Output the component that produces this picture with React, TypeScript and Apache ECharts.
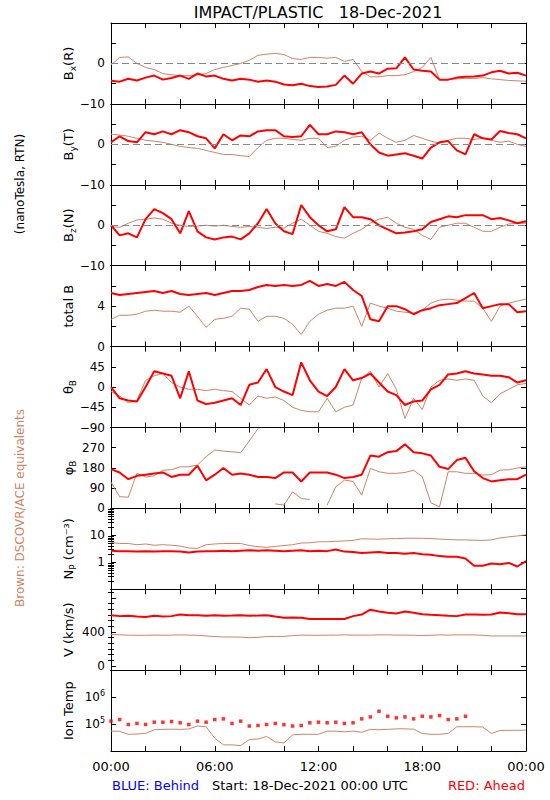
import React, { useEffect, useRef } from 'react';
import * as echarts from 'echarts';

// ---------- data (half-hour samples from 00:00 to 24:00) ----------
const HOUR_STEP = 0.5;
const X_TICK_LABELS = ['00:00', '06:00', '12:00', '18:00', '00:00'];

const BX_RED = [-4.3, -4.5, -3.8, -4.2, -3.5, -3.0, -4.0, -3.6, -3.0, -3.8, -2.5, -3.2, -3.0, -3.8, -4.2, -3.8, -4.0, -4.5, -4.2, -4.5, -5.2, -5.4, -5.0, -5.6, -5.8, -5.7, -5.3, -3.0, -5.0, -2.5, -2.0, -2.5, -1.3, -1.2, 1.5, -1.5, -1.8, -2.0, -4.0, -4.0, -3.5, -3.3, -3.2, -3.0, -2.2, -1.8, -2.5, -2.3, -3.0];
const BX_BROWN = [-0.4, 1.5, 1.6, 0.0, -1.0, -1.5, -2.5, -2.8, -3.0, -3.0, -2.8, -2.5, -1.5, -1.0, -0.5, 0.0, 0.8, 2.0, 2.3, 2.5, 2.2, 1.2, 1.0, 1.5, 1.5, 1.3, 1.5, 0.5, 1.0, -2.0, -3.3, -3.3, -3.0, -3.0, -2.8, -2.0, -1.0, 1.5, -4.0, -4.0, -3.8, -3.7, -3.7, -3.5, -3.8, -4.0, -4.2, -4.3, -4.4];

const BY_RED = [0.5, 2.0, 0.8, 0.5, 3.0, 2.5, 3.2, 2.5, 3.5, 3.0, 2.0, 1.5, -1.0, 2.5, 1.0, 2.2, 2.0, 3.2, 3.5, 3.5, 2.0, 1.8, 2.0, 4.8, 2.5, 2.5, 3.2, 3.0, 2.5, 3.0, 0.0, -2.0, -2.8, -2.5, -2.2, -2.8, -3.5, -0.8, 0.5, 0.8, -1.5, -2.5, 2.5, 1.5, 1.2, 3.3, 2.8, 2.5, 1.5];
const BY_BROWN = [2.5, 2.3, 2.0, 1.5, 1.0, 0.8, 0.5, 0.0, -0.5, -0.8, -1.0, -1.5, -2.0, -2.5, -2.5, -2.8, -3.0, -0.8, 1.0, 1.5, 1.5, 1.2, 1.0, 1.5, 1.5, -0.8, -0.5, 1.0, 1.8, 2.0, 1.0, 2.8, 1.5, 0.5, 1.0, 2.2, 1.5, 0.8, 0.3, 1.0, 1.5, 1.5, 1.2, 1.5, 1.0, 0.5, 0.8, 0.0, -0.5];

const BZ_RED = [0.0, -2.5, -2.0, -3.0, 1.5, 4.0, 3.0, 1.5, -2.0, 3.5, -1.5, -3.0, -3.5, -3.0, -2.8, -3.5, -2.0, 0.5, 4.0, 0.5, -1.5, -2.2, 5.0, 2.0, 0.0, -1.5, -1.0, 4.5, 2.0, 2.0, 1.5, 0.0, -1.0, -2.0, -1.8, -1.5, -1.0, 0.8, 1.5, 2.2, 2.0, 2.5, 2.5, 2.5, 1.5, 1.8, 1.2, 0.5, 1.0];
const BZ_BROWN = [-0.3, -0.5, 0.5, 1.3, 1.5, 1.8, 1.5, 0.5, 0.0, -0.3, -0.2, 0.0, -0.2, 0.0, -0.3, -0.5, -0.3, -0.5, -0.8, -0.5, -0.7, 0.5, 1.5, 0.0, -1.5, -2.0, -2.8, -3.2, -2.0, -1.0, 0.5, 1.5, 2.0, 0.5, -0.5, -1.0, -2.5, -3.5, -0.5, 0.0, 0.5, 0.5, -0.5, -1.5, -1.5, -0.5, 0.3, 0.5, 0.5];

const BT_RED = [5.3, 5.1, 5.2, 5.3, 5.4, 5.5, 5.3, 5.5, 5.2, 5.1, 5.2, 5.3, 5.1, 5.3, 5.5, 5.5, 5.6, 5.9, 6.1, 6.0, 6.1, 6.0, 6.1, 6.5, 6.0, 6.2, 6.0, 6.4, 5.6, 5.0, 2.7, 2.5, 4.0, 4.0, 3.7, 3.2, 3.6, 3.8, 4.1, 4.2, 4.3, 4.8, 5.3, 3.8, 4.0, 4.2, 4.2, 3.4, 3.5];
const BT_BROWN = [2.7, 3.1, 3.1, 3.2, 3.5, 3.6, 3.5, 3.5, 3.4, 4.0, 3.0, 1.9, 2.7, 2.8, 3.0, 3.8, 3.7, 2.5, 3.0, 3.0, 2.8, 2.2, 1.2, 2.5, 3.2, 3.6, 3.8, 3.8, 4.0, 2.0, 4.3, 4.0, 3.8, 3.5, 3.4, 3.3, 3.6, 4.3, 4.6, 4.7, 4.6, 4.5, 4.5, 3.8, 2.5, 4.0, 4.3, 4.5, 4.7];

const THETA_RED = [0, -25, -30, -32, 0, 35, 30, 25, -25, 35, -30, -38, -35, -30, -25, -40, 5, 10, 40, 0, -10, -18, 55, 15, -10, -20, 0, 40, 15, 20, 30, 10, -10, -18, -40, -32, -30, -5, 5, 28, 30, 35, 30, 28, 25, 25, 22, 10, 15];
const THETA_BROWN = [-10, -20, -35, -30, 15, 25, 30, 10, 0, -5, -5, -8, -5, -8, -10, -25, -40, -20, -25, -22, -30, -45, -52, -55, -55, -25, -55, -45, -40, 20, 35, 0, 30, -5, -70, -25, -50, 0, 15, 18, 15, 18, 15, -20, -35, -15, -5, 5, 8];

const PHI_RED = [175, 160, 130, 145, 150, 155, 160, 140, 150, 150, 190, 125, 150, 180, 150, 155, 150, 140, 140, 135, 160, 160, 120, 160, 160, 160, 150, 135, 140, 150, 235, 230, 250, 255, 285, 250, 245, 235, 185, 175, 215, 225, 165, 135, 120, 125, 130, 130, 150];
const PHI_BROWN = [117, 52, 50, 156, 140, 145, 170, 172, 185, 185, 193, 230, 260, 255, 252, 248, 300, 355, null, 20, 15, 74, 44, 40, null, 15, 96, 126, 120, 59, 178, 163, 156, 156, 160, 170, 141, 25, 7, 163, 163, 156, 156, 148, 150, 170, 172, 180, 185];

const NP_RED = [2.7, 2.6, 2.6, 2.5, 2.6, 2.5, 2.6, 2.6, 2.5, 2.3, 2.5, 2.6, 2.6, 2.7, 2.6, 2.7, 2.8, 2.7, 2.8, 2.7, 2.6, 2.7, 2.8, 2.6, 2.7, 2.6, 3.0, 2.5, 2.4, 2.2, 2.3, 2.4, 2.2, 2.2, 2.1, 2.2, 2.0, 1.9, 1.7, 1.6, 1.6, 1.4, 0.75, 0.75, 0.9, 0.85, 0.95, 0.7, 1.1];
const NP_BROWN = [5.5, 5.0, 5.0, 4.5, 4.8, 4.3, 4.5, 4.3, 4.0, 3.4, 3.3, 4.5, 4.8, 5.0, 5.0, 5.0, 4.2, 3.8, 3.6, 3.9, 4.2, 4.5, 5.2, 5.3, 5.8, 5.8, 6.0, 6.2, 6.5, 7.5, 7.3, 7.2, 7.5, 7.6, 7.8, 7.8, 7.8, 7.6, 7.3, 7.0, 6.8, 6.8, 6.6, 6.5, 6.8, 8.0, 8.8, 9.5, 10.5];

const V_RED = [596, 585, 590, 580, 575, 590, 580, 585, 604, 596, 596, 590, 596, 590, 592, 596, 589, 592, 596, 580, 566, 568, 566, 551, 551, 551, 551, 551, 585, 604, 660, 640, 625, 615, 640, 625, 608, 600, 596, 590, 585, 604, 604, 600, 604, 627, 620, 608, 608];
const V_BROWN = [370, 365, 362, 360, 360, 362, 360, 362, 365, 362, 360, 352, 345, 340, 340, 338, 332, 335, 347, 347, 347, 355, 362, 360, 360, 362, 362, 365, 362, 362, 362, 365, 365, 362, 362, 360, 358, 360, 365, 362, 365, 365, 365, 360, 352, 352, 352, 352, 352];

const TEMP_RED = [129000, 148000, 97000, 106000, 97000, 118000, 118000, 125000, 112000, 97000, 129000, 118000, 148000, 157000, 106000, 129000, 85000, 89000, 97000, 106000, 95000, 85000, 89000, 112000, 118000, 112000, 118000, 106000, 112000, 157000, 185000, 300000, 196000, 171000, 185000, 157000, 196000, 185000, 208000, 148000, 157000, 196000, null, null, null, null, null, null, null];
const TEMP_BROWN = [55000, 54000, 42000, 43000, 45000, 62000, 64000, 65000, 64000, 66000, 85000, 80000, 30000, 17000, 17000, 16000, 27000, 28000, 35000, 22000, 20000, 40000, 42000, 42000, 42000, 55000, 55000, 52000, 55000, 50000, 64000, 62000, 64000, 67000, 67000, 65000, 45000, 42000, 42000, 45000, 80000, 80000, 80000, 78000, 45000, 58000, 59000, 59000, 60000];

const NP_MINOR_TICKS = [0.2, 0.3, 0.4, 0.5, 0.6, 0.7, 0.8, 0.9, 2, 3, 4, 5, 6, 7, 8, 9, 20, 30, 40, 50, 60, 70, 80, 90];
const V_MAJOR_TICKS = [0, 400, 800];
const V_MINOR_TICKS = [66.7, 133.3, 200, 266.7, 333.3, 466.7, 533.3, 600, 666.7, 733.3, 866.7];

// ---------- styling ----------
const RED = '#ff0000';
const BROWN = '#cc8466';
const FONT = 'DejaVu Sans';
const GRID_LEFT = 111;
const GRID_W = 415;
const GRID_TOP = 23;
const PANEL_H = 80.9;

const minus = (v: number) => {
  const r = Math.round(v);
  return r < 0 ? '\u2212' + Math.abs(r) : String(r);
};

type Panel = {
  name: string;
  axis: any;
  labels: number[];
  edgeLabels?: number[]; // labels on the panel edge, written as text beside the axis
  log?: boolean;
  zero?: boolean;
  red: (number | null)[];
  brown: (number | null)[];
  redScatter?: boolean;
  tickValues?: number[];
  minorTicks?: number[];
  fmt?: (v: number) => string;
};

const PANELS: Panel[] = [
  { name: '{m|B}{s|x}{m|(R)}', axis: { type: 'value', min: -10, max: 10, interval: 5 }, labels: [0, -10], zero: true, red: BX_RED, brown: BX_BROWN },
  { name: '{m|B}{s|y}{m|(T)}', axis: { type: 'value', min: -10, max: 10, interval: 5 }, labels: [0, -10], zero: true, red: BY_RED, brown: BY_BROWN },
  { name: '{m|B}{s|z}{m|(N)}', axis: { type: 'value', min: -10, max: 10, interval: 5 }, labels: [0, -10], zero: true, red: BZ_RED, brown: BZ_BROWN },
  { name: '{m|total B}', axis: { type: 'value', min: 0, max: 8, interval: 2 }, labels: [0, 4], red: BT_RED, brown: BT_BROWN },
  { name: '{m|\u03b8}{s|B}', axis: { type: 'value', min: -90, max: 90, interval: 45 }, labels: [-45, 0, 45], edgeLabels: [-90], red: THETA_RED, brown: THETA_BROWN },
  { name: '{m|\u03c6}{s|B}', axis: { type: 'value', min: 0, max: 360, interval: 90 }, labels: [0, 90, 180, 270], red: PHI_RED, brown: PHI_BROWN },
  { name: '{m|N}{s|P}{m| (cm\u207b\u00b3)}', axis: { type: 'log', min: 0.1, max: 100, logBase: 10 }, log: true, labels: [1, 10], red: NP_RED, brown: NP_BROWN, minorTicks: NP_MINOR_TICKS },
  { name: '{m|V (km/s)}', axis: { type: 'value', min: -50, max: 900 }, labels: [0, 400], tickValues: V_MAJOR_TICKS, minorTicks: V_MINOR_TICKS, red: V_RED, brown: V_BROWN },
  { name: '{m|Ion Temp}', axis: { type: 'log', min: 1e4, max: 1e7, logBase: 10 }, log: true, labels: [1e5, 1e6], red: TEMP_RED, brown: TEMP_BROWN, redScatter: true,
    fmt: (v: number) => '{b|10}{p|' + Math.round(Math.log10(v)) + '}' },
];

const toPairs = (vals: (number | null)[]) => vals.map((v, i) => [i * HOUR_STEP, v]);

function buildOption() {
  const grids: any[] = [];
  const xAxes: any[] = [];
  const yAxes: any[] = [];
  const series: any[] = [];
  const graphics: any[] = [];
  const last = PANELS.length - 1;

  PANELS.forEach((p, i) => {
    const top = GRID_TOP + i * PANEL_H;
    grids.push({ left: GRID_LEFT, width: GRID_W, top, height: PANEL_H, show: false });

    ['bottom', 'top'].forEach((pos) => {
      const showLab = pos === 'bottom' && i === last;
      xAxes.push({
        type: 'value', gridIndex: i, position: pos, min: 0, max: 24, interval: 2,
        axisLine: { show: true, onZero: false, lineStyle: { color: '#000', width: 1 } },
        axisTick: { show: true, inside: true, length: 5, lineStyle: { color: '#000', width: 1 } },
        splitLine: { show: false },
        axisLabel: showLab
          ? {
              show: true, fontSize: 13, fontFamily: FONT, color: '#000', margin: 9,
              showMinLabel: true, showMaxLabel: true,
              customValues: [0, 6, 12, 18, 24],
              formatter: (v: number) => X_TICK_LABELS[Math.round(v / 6)] ?? '',
            }
          : { show: false },
      });
    });

    const leftIdx = yAxes.length;
    const tickL: any = { show: true, inside: true, length: 5, lineStyle: { color: '#000', width: 1 } };
    if (p.tickValues) tickL.customValues = p.tickValues;
    yAxes.push({
      ...p.axis, gridIndex: i, position: 'left',
      axisLine: { show: true, onZero: false, lineStyle: { color: '#000', width: 1 } },
      axisTick: tickL,
      splitLine: { show: false },
      minorTick: { show: false },
      axisLabel: {
        show: true, fontSize: 12, fontFamily: FONT, color: '#000', margin: 6,
        showMinLabel: true, showMaxLabel: true, hideOverlap: false,
        customValues: p.labels,
        formatter: (v: number) => (p.fmt ? p.fmt(v) : minus(v)),
        rich: {
          b: { fontSize: 12, fontFamily: FONT, color: '#000' },
          p: { fontSize: 8, fontFamily: FONT, color: '#000', padding: [0, 0, 8, 0] },
        },
      },
    });
    const tickR: any = { show: true, inside: true, length: 5, lineStyle: { color: '#000', width: 1 } };
    if (p.tickValues) tickR.customValues = p.tickValues;
    yAxes.push({
      ...p.axis, gridIndex: i, position: 'right',
      axisLine: { show: true, onZero: false, lineStyle: { color: '#000', width: 1 } },
      axisTick: tickR,
      splitLine: { show: false },
      minorTick: { show: false },
      axisLabel: { show: false },
    });
    if (p.minorTicks) {
      ['left', 'right'].forEach((pos) => {
        yAxes.push({
          ...p.axis, gridIndex: i, position: pos,
          axisLine: { show: false },
          axisTick: { show: true, inside: true, length: 3, customValues: p.minorTicks, lineStyle: { color: '#000', width: 1 } },
          splitLine: { show: false },
          axisLabel: { show: false },
        });
      });
    }

    series.push({
      type: 'line', xAxisIndex: 2 * i, yAxisIndex: leftIdx, data: toPairs(p.brown),
      showSymbol: false, symbol: 'none', connectNulls: false, z: 2,
      lineStyle: { color: BROWN, width: 1 }, itemStyle: { color: BROWN },
      markLine: p.zero
        ? { silent: true, symbol: 'none', label: { show: false }, lineStyle: { color: '#888', type: [7, 4], width: 1 }, data: [{ yAxis: 0 }] }
        : undefined,
    });
    if (p.redScatter) {
      series.push({
        type: 'scatter', xAxisIndex: 2 * i, yAxisIndex: leftIdx, data: toPairs(p.red).filter((d) => d[1] !== null),
        symbol: 'rect', symbolSize: 3.5, itemStyle: { color: RED }, z: 3,
      });
    } else {
      series.push({
        type: 'line', xAxisIndex: 2 * i, yAxisIndex: leftIdx, data: toPairs(p.red),
        showSymbol: false, symbol: 'none', connectNulls: false, z: 3,
        lineStyle: { color: RED, width: 2 }, itemStyle: { color: RED },
      });
    }

    (p.edgeLabels || []).forEach((v) => {
      const frac = (p.axis.max - v) / (p.axis.max - p.axis.min);
      graphics.push({
        type: 'text', z: 1000, zlevel: 1, silent: true,
        x: GRID_LEFT - 6, y: top + frac * PANEL_H,
        style: { text: minus(v), fill: '#000', font: '12px "DejaVu Sans"', align: 'right', verticalAlign: 'middle' },
      });
    });

    graphics.push({
      type: 'text', x: 68, y: top + PANEL_H / 2, rotation: Math.PI / 2,
      style: {
        text: p.name, fill: '#000', align: 'center', verticalAlign: 'middle',
        rich: {
          m: { fontSize: 13, fontFamily: FONT, fill: '#000', lineHeight: 14 },
          s: { fontSize: 9, fontFamily: FONT, fill: '#000', lineHeight: 9, padding: [9, 0, 0, 0] },
        },
      },
    });
  });

  graphics.push(
    { type: 'text', x: 318, y: 12, style: { text: 'IMPACT/PLASTIC   18-Dec-2021', fill: '#000', font: '16px "DejaVu Sans"', align: 'center', verticalAlign: 'middle' } },
    { type: 'text', x: 20, y: 184, rotation: Math.PI / 2, style: { text: '(nanoTesla, RTN)', fill: '#000', font: '12px "DejaVu Sans"', align: 'center', verticalAlign: 'middle' } },
    { type: 'text', x: 20, y: 508, rotation: Math.PI / 2, style: { text: 'Brown: DSCOVR/ACE equivalents', fill: BROWN, font: '12px "DejaVu Sans"', align: 'center', verticalAlign: 'middle' } },
    { type: 'text', x: 112, y: 785, style: { text: 'BLUE: Behind', fill: '#0000ff', font: '13px "DejaVu Sans"', align: 'left', verticalAlign: 'middle' } },
    { type: 'text', x: 212, y: 785, style: { text: 'Start: 18-Dec-2021 00:00 UTC', fill: '#000', font: '13px "DejaVu Sans"', align: 'left', verticalAlign: 'middle' } },
    { type: 'text', x: 525, y: 785, style: { text: 'RED: Ahead', fill: RED, font: '13px "DejaVu Sans"', align: 'right', verticalAlign: 'middle' } },
  );

  return {
    animation: false,
    backgroundColor: '#fff',
    textStyle: { fontFamily: FONT },
    grid: grids,
    xAxis: xAxes,
    yAxis: yAxes,
    series,
    graphic: graphics,
  };
}

export default function App() {
  const ref = useRef<HTMLDivElement>(null);
  useEffect(() => {
    if (!ref.current) return;
    const chart = echarts.init(ref.current, null, { renderer: 'svg' });
    chart.setOption(buildOption() as any);
    return () => chart.dispose();
  }, []);
  return (
    <div
      ref={ref}
      style={{ position: 'fixed', left: 0, top: 0, width: 550, height: 800, background: '#fff' }}
    />
  );
}
